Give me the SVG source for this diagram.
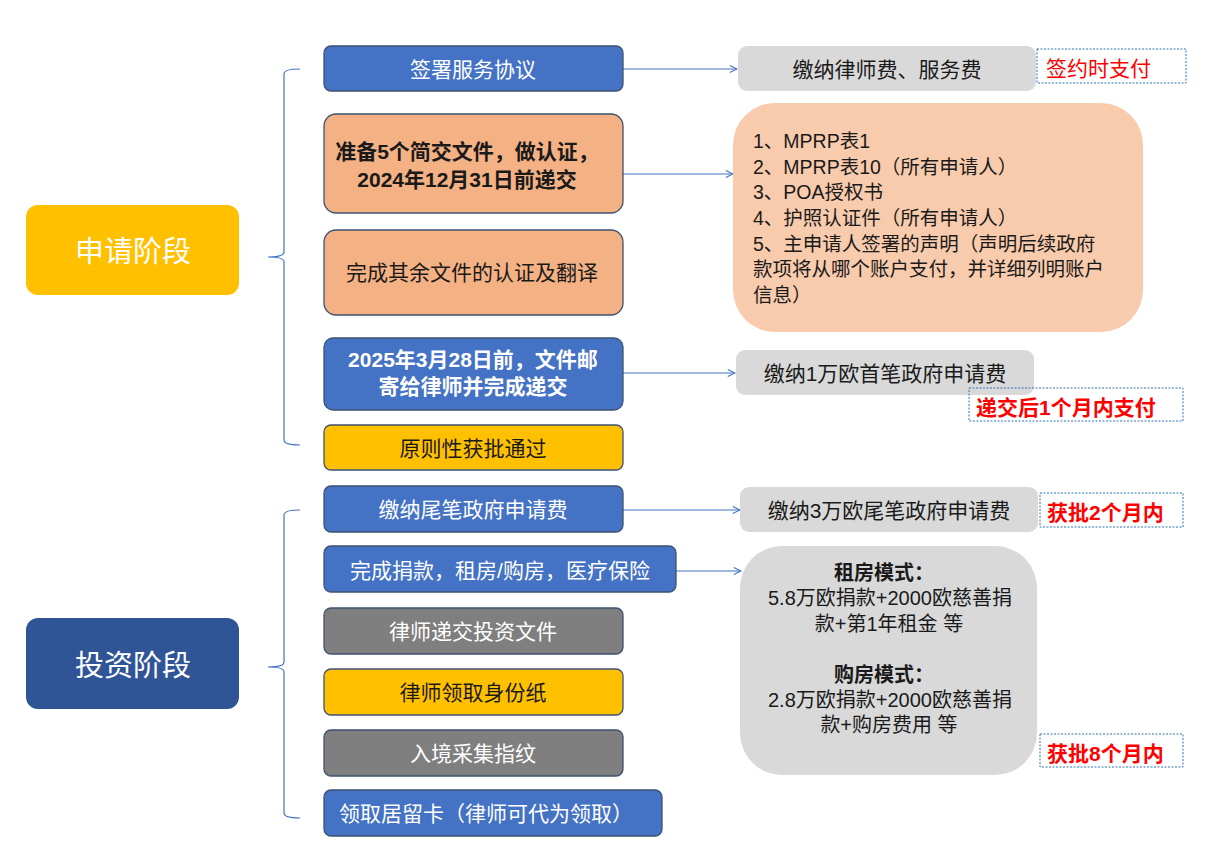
<svg xmlns="http://www.w3.org/2000/svg" width="1209" height="868" viewBox="0 0 1209 868">
<style>
text{font-family:"Liberation Sans","Noto Sans CJK SC",sans-serif;font-size:21px}
.node{stroke:#3E5273;stroke-width:1.3}
.blue{fill:#4472C4}
.peach{fill:#F4B183}
.gray{fill:#7F7F7F}
.yel{fill:#FFC000}
.w{fill:#FFFFFF}
.k{fill:#1A1A1A}
.mid{text-anchor:middle}
.pay{fill:#D9D9D9}
.red{fill:#FF0000;font-size:21px}
.dot{fill:none;stroke:#2E75B6;stroke-width:1;stroke-dasharray:2 1.5}
.conn{fill:none;stroke:#4472C4;stroke-width:1.2}
.brace{fill:none;stroke:#4472C4;stroke-width:1.2}
.b{font-weight:bold}
.list{font-size:19.5px}
.mode{font-size:20px}
</style>
<defs>
<marker id="arr" viewBox="0 0 10 10" refX="9" refY="5" markerWidth="9" markerHeight="9" markerUnits="userSpaceOnUse" orient="auto">
<path d="M1,1 L9,5 L1,9" fill="none" stroke="#4472C4" stroke-width="1.2"/>
</marker>
</defs>
<rect width="1209" height="868" fill="#FFFFFF"/>

<g id="stage-apply">
<rect x="26" y="205" width="213" height="90" rx="12" class="yel"/>
<text x="133" y="262" class="w mid" style="font-size:29px">申请阶段</text>
</g>
<g id="stage-invest">
<rect x="26" y="618" width="213" height="91" rx="12" fill="#2F5597"/>
<text x="133" y="676" class="w mid" style="font-size:29px">投资阶段</text>
</g>

<g id="braces">
<path class="brace" d="M300,69 Q284,69 284,74 L284,252 Q284,257 268,257 Q284,257 284,262 L284,440 Q284,445 300,445"/>
<path class="brace" d="M300,510 Q284,510 284,515 L284,662 Q284,667 268,667 Q284,667 284,672 L284,813 Q284,818 300,818"/>
</g>

<g id="connectors">
<line class="conn" x1="623" y1="69" x2="737" y2="69" marker-end="url(#arr)"/>
<line class="conn" x1="623" y1="174" x2="733" y2="174" marker-end="url(#arr)"/>
<line class="conn" x1="623" y1="373" x2="735" y2="373" marker-end="url(#arr)"/>
<line class="conn" x1="623" y1="510" x2="740" y2="510" marker-end="url(#arr)"/>
<line class="conn" x1="676" y1="571" x2="741" y2="571" marker-end="url(#arr)"/>
</g>

<g id="n1">
<rect x="324" y="46" width="299" height="45" rx="7" class="node blue"/>
<text x="473" y="77" class="w mid">签署服务协议</text>
</g>
<g id="n2">
<rect x="324" y="114" width="299" height="99" rx="12" class="node peach"/>
<text x="467" y="159" class="k mid b">准备5个简交文件，做认证，</text>
<text x="467" y="187" class="k mid b">2024年12月31日前递交</text>
</g>
<g id="n3">
<rect x="324" y="230" width="299" height="85" rx="12" class="node peach"/>
<text x="472" y="280" class="k mid">完成其余文件的认证及翻译</text>
</g>
<g id="n4">
<rect x="324" y="338" width="299" height="72" rx="9" class="node blue"/>
<text x="473" y="367" class="w mid b">2025年3月28日前，文件邮</text>
<text x="473" y="394" class="w mid b">寄给律师并完成递交</text>
</g>
<g id="n5">
<rect x="324" y="425" width="299" height="45" rx="7" class="node yel"/>
<text x="473" y="456" class="k mid">原则性获批通过</text>
</g>
<g id="n6">
<rect x="324" y="486" width="299" height="46" rx="7" class="node blue"/>
<text x="473" y="517" class="w mid">缴纳尾笔政府申请费</text>
</g>
<g id="n7">
<rect x="324" y="546" width="352" height="46" rx="7" class="node blue"/>
<text x="500" y="578" class="w mid">完成捐款，租房/购房，医疗保险</text>
</g>
<g id="n8">
<rect x="324" y="608" width="299" height="46" rx="7" class="node gray"/>
<text x="473" y="639" class="w mid">律师递交投资文件</text>
</g>
<g id="n9">
<rect x="324" y="669" width="299" height="46" rx="7" class="node yel"/>
<text x="473" y="700" class="k mid">律师领取身份纸</text>
</g>
<g id="n10">
<rect x="324" y="730" width="299" height="46" rx="7" class="node gray"/>
<text x="473" y="761" class="w mid">入境采集指纹</text>
</g>
<g id="n11">
<rect x="324" y="790" width="338" height="46" rx="7" class="node blue"/>
<text x="486" y="821" class="w mid">领取居留卡（律师可代为领取）</text>
</g>

<g id="p1">
<rect x="738" y="46" width="298" height="45" rx="9" class="pay"/>
<text x="887" y="77" class="k mid">缴纳律师费、服务费</text>
</g>
<g id="p1-note">
<rect x="1037" y="49" width="149" height="34" class="dot"/>
<text x="1046" y="76" class="red">签约时支付</text>
</g>
<g id="docs">
<rect x="733" y="103" width="410" height="229" rx="42" fill="#F8CBAD"/>
<text x="753" y="148" class="k list">1、MPRP表1</text>
<text x="753" y="174" class="k list">2、MPRP表10（所有申请人）</text>
<text x="753" y="199" class="k list">3、POA授权书</text>
<text x="753" y="225" class="k list">4、护照认证件（所有申请人）</text>
<text x="753" y="251" class="k list">5、主申请人签署的声明（声明后续政府</text>
<text x="753" y="276" class="k list">款项将从哪个账户支付，并详细列明账户</text>
<text x="753" y="302" class="k list">信息）</text>
</g>
<g id="p2">
<rect x="736" y="350" width="298" height="45" rx="9" class="pay"/>
<text x="885" y="381" class="k mid">缴纳1万欧首笔政府申请费</text>
</g>
<g id="p2-note">
<rect x="969" y="388" width="214" height="33" class="dot"/>
<text x="976" y="415" class="red b">递交后1个月内支付</text>
</g>
<g id="p3">
<rect x="740" y="487" width="298" height="45" rx="9" class="pay"/>
<text x="889" y="518" class="k mid">缴纳3万欧尾笔政府申请费</text>
</g>
<g id="p3-note">
<rect x="1040" y="493" width="143" height="34" class="dot"/>
<text x="1047" y="520" class="red b">获批2个月内</text>
</g>
<g id="modes">
<rect x="740" y="546" width="297" height="229" rx="42" class="pay"/>
<text x="884" y="580" class="k mid b mode">租房模式：</text>
<text x="890" y="605" class="k mid mode">5.8万欧捐款+2000欧慈善捐</text>
<text x="889" y="631" class="k mid mode">款+第1年租金 等</text>
<text x="884" y="682" class="k mid b mode">购房模式：</text>
<text x="890" y="707" class="k mid mode">2.8万欧捐款+2000欧慈善捐</text>
<text x="889" y="732" class="k mid mode">款+购房费用 等</text>
</g>
<g id="modes-note">
<rect x="1040" y="734" width="143" height="33" class="dot"/>
<text x="1047" y="761" class="red b">获批8个月内</text>
</g>
</svg>
